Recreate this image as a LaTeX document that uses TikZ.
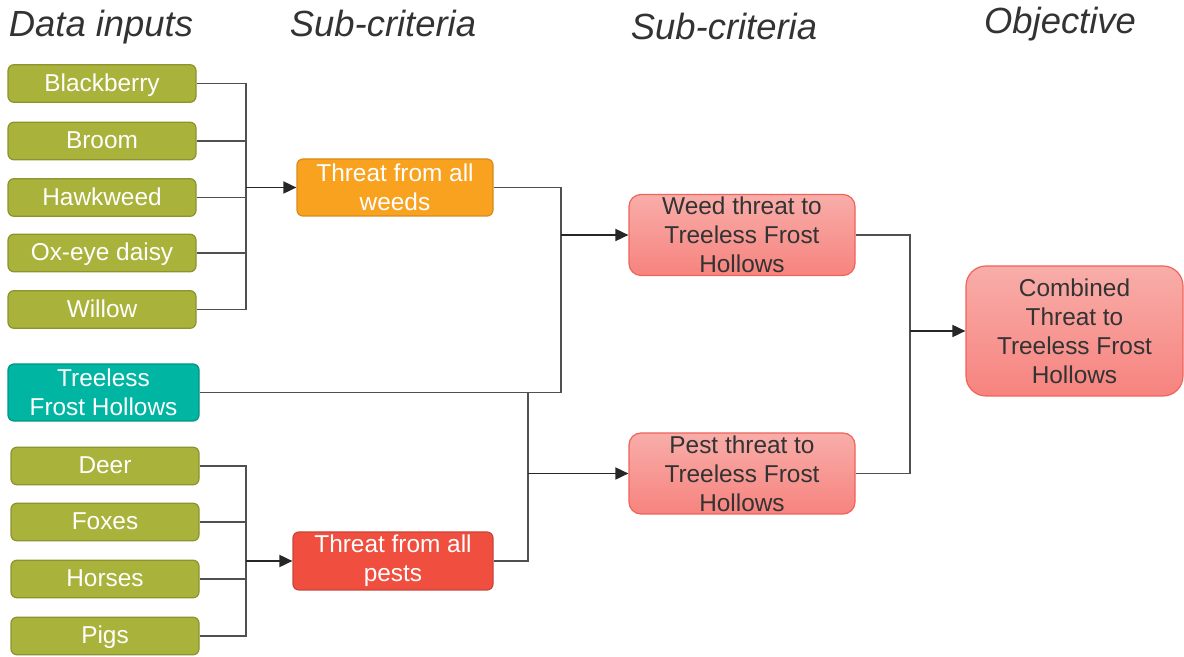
\documentclass[tikz,border=0pt]{standalone}
\usepackage{fontspec}
\setmainfont{Liberation Sans}
\usetikzlibrary{arrows.meta}
\definecolor{olive}{HTML}{A9B23A}
\definecolor{olivedark}{HTML}{8C942E}
\definecolor{teal}{HTML}{00B5A2}
\definecolor{tealdark}{HTML}{009585}
\definecolor{weedorange}{HTML}{F9A21F}
\definecolor{orangedark}{HTML}{D98A18}
\definecolor{pestred}{HTML}{F04E3E}
\definecolor{reddark}{HTML}{C8453A}
\definecolor{pinktop}{HTML}{F8ADA9}
\definecolor{pinkbot}{HTML}{F7837E}
\definecolor{pinkedge}{HTML}{F0625B}
\definecolor{wire}{HTML}{505050}
\definecolor{darktext}{HTML}{333333}
\tikzset{
  x=0.5pt, y=-0.5pt,
  box/.style={rounded corners=3pt, line width=0.6pt, align=center, inner sep=0pt,
    font=\fontsize{12.2}{14.5}\selectfont, text=white},
  inputbox/.style={box, fill=olive, draw=olivedark, minimum width=94pt, minimum height=18.8pt,
    text height=0.9em, text depth=0.12em},
  sitebox/.style={box, fill=teal, draw=tealdark, minimum width=95.5pt, minimum height=28.5pt},
  weedbox/.style={box, fill=weedorange, draw=orangedark, minimum width=98pt, minimum height=28.5pt},
  pestbox/.style={box, fill=pestred, draw=reddark, minimum width=100pt, minimum height=29pt},
  threatbox/.style={box, rounded corners=6pt, top color=pinktop, bottom color=pinkbot,
    draw=pinkedge, text=darktext, minimum width=113pt, minimum height=40.5pt},
  goalbox/.style={threatbox, rounded corners=10pt, minimum width=108.5pt, minimum height=65pt},
  heading/.style={font=\fontsize{18.2}{20}\selectfont\itshape, text=darktext, anchor=base},
  wiring/.style={draw=wire, line width=0.65pt},
  feed/.style={draw=black!85, line width=0.9pt, -{Triangle[length=6.5pt, width=6pt]}},
}
\begin{document}
\begin{tikzpicture}
\useasboundingbox (0,0) rectangle (1184,657);

% column headings
\node[heading] (h1) at (101,37) {Data inputs};
\node[heading] (h2) at (383,37) {Sub-criteria};
\node[heading] (h3) at (724,40) {Sub-criteria};
\node[heading] (h4) at (1060,34) {Objective};

% weed inputs
\node[inputbox] (blackberry) at (102,83.5) {Blackberry};
\node[inputbox] (broom) at (102,141) {Broom};
\node[inputbox] (hawkweed) at (102,197.5) {Hawkweed};
\node[inputbox] (oxeye) at (102,253) {Ox-eye daisy};
\node[inputbox] (willow) at (102,309.5) {Willow};

% site layer
\node[sitebox] (tfh) at (103.5,392.5) {Treeless\\Frost Hollows};

% pest inputs
\node[inputbox] (deer) at (105,466) {Deer};
\node[inputbox] (foxes) at (105,522) {Foxes};
\node[inputbox] (horses) at (105,579) {Horses};
\node[inputbox] (pigs) at (105,636) {Pigs};

% aggregated threats
\node[weedbox] (weeds) at (395,187.5) {Threat from all\\weeds};
\node[pestbox] (pests) at (393,561) {Threat from all\\pests};

% threats to the site
\node[threatbox] (weedT) at (742,235) {Weed threat to\\Treeless Frost\\Hollows};
\node[threatbox] (pestT) at (742,473.5) {Pest threat to\\Treeless Frost\\Hollows};

% objective
\node[goalbox] (goal) at (1074.5,331) {Combined\\Threat to\\Treeless Frost\\Hollows};

% junction points
\coordinate (jweeds) at (246,187.5);
\coordinate (jpests) at (246,561);
\coordinate (jweedT) at (561,235);
\coordinate (jpestT) at (528,473.5);
\coordinate (jgoal) at (910,331);

% weed bus
\foreach \n in {blackberry,broom,hawkweed,oxeye,willow}
  \draw[wiring] (\n.east) -| (jweeds);
\draw[feed] (jweeds) -- (weeds.west);

% pest bus
\foreach \n in {deer,foxes,horses,pigs}
  \draw[wiring] (\n.east) -| (jpests);
\draw[feed] (jpests) -- (pests.west);

% combining with the site
\draw[wiring] (weeds.east) -| (jweedT);
\draw[wiring] (tfh.east) -| (jweedT);
\draw[wiring] (tfh.east) -| (jpestT);
\draw[wiring] (pests.east) -| (jpestT);
\draw[feed] (jweedT) -- (weedT.west);
\draw[feed] (jpestT) -- (pestT.west);

% objective
\draw[wiring] (weedT.east) -| (jgoal);
\draw[wiring] (pestT.east) -| (jgoal);
\draw[feed] (jgoal) -- (goal.west);
\end{tikzpicture}
\end{document}
